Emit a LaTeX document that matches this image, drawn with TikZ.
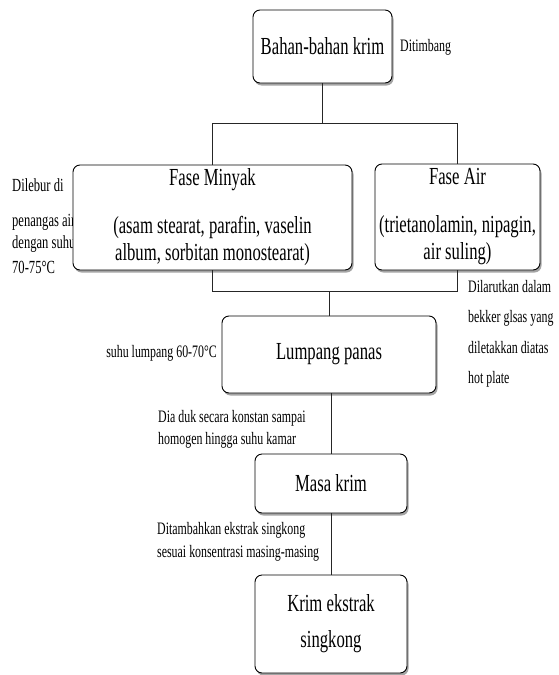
\documentclass[tikz,border=0pt]{standalone}
\usepackage{fontspec}
\setmainfont{Liberation Serif}[FakeStretch=0.68]
\usetikzlibrary{shadows}

\begin{document}
\begin{tikzpicture}[x=1pt, y=-1pt,
            box/.style={draw, fill=white, rounded corners=7pt, line width=0.9pt, inner sep=0pt,
                align=center, font=\fontsize{24.5}{27}\selectfont,
                drop shadow={shadow xshift=1.5pt, shadow yshift=-2.5pt, fill=black!55, opacity=.65}},
            note/.style={inner sep=0pt, align=left, font=\fontsize{17.5}{22}\selectfont},
            link/.style={draw=black!85, line width=0.9pt}]
        \useasboundingbox (0,0) rectangle (558,675);
        % keterangan di kiri (sebagian tertutup kotak)
        \node[note, anchor=west, font=\fontsize{18.5}{22}\selectfont] (lebur) at (12,226)
            {Dilebur di\\[13pt]penangas air\\dengan suhu\\[3pt]70-75°C};
        % kotak proses
        \node[box, minimum width=139, minimum height=73] (bahan) at (322.5,46.5) {Bahan-bahan krim};
        \node[box, minimum width=279, minimum height=105] (minyak) at (212.5,217.5)
            {Fase Minyak\\[21pt](asam stearat, parafin, vaselin\\album, sorbitan monostearat)};
        \node[box, minimum width=165, minimum height=106] (air) at (457.5,217)
            {Fase Air\\[21pt](trietanolamin, nipagin,\\air suling)};
        \node[box, minimum width=214, minimum height=77] (lumpang) at (329,354.5) {Lumpang panas};
        \node[box, minimum width=152, minimum height=59] (masa) at (331,483.5) {Masa krim};
        \node[box, minimum width=152, minimum height=98] (krim) at (331,624) {Krim ekstrak\\[9pt]singkong};
        % garis penghubung
        \draw[link] (bahan.south) -- ++(0,40) coordinate (j1);
        \draw[link] (minyak.north) |- (j1) -| (air.north);
        \draw[link] (minyak.south) -- ++(0,21) coordinate (j2) -| (air.south);
        \draw[link] (lumpang.north) -- (lumpang.north |- j2);
        \draw[link] (masa.north) -- (masa.north |- lumpang.south);
        \draw[link] (krim.north) -- (krim.north |- masa.south);
        % keterangan lain
        \node[note, anchor=west] (timbang) at (400,47) {Ditimbang};
        \node[note, anchor=west, font=\fontsize{17.5}{30.5}\selectfont] (larut) at (468,334)
            {Dilarutkan dalam\\bekker glsas yang\\diletakkan diatas\\hot plate};
        \node[note, anchor=east] (suhu) at (217,353) {suhu lumpang 60-70°C};
        \node[note, anchor=west] (aduk) at (158,429) {Dia duk secara konstan sampai\\homogen hingga suhu kamar};
        \node[note, anchor=west, font=\fontsize{17.5}{23}\selectfont] (tambah) at (157,541.5)
            {Ditambahkan ekstrak singkong\\sesuai konsentrasi masing-masing};
    \end{tikzpicture}
\end{document}
